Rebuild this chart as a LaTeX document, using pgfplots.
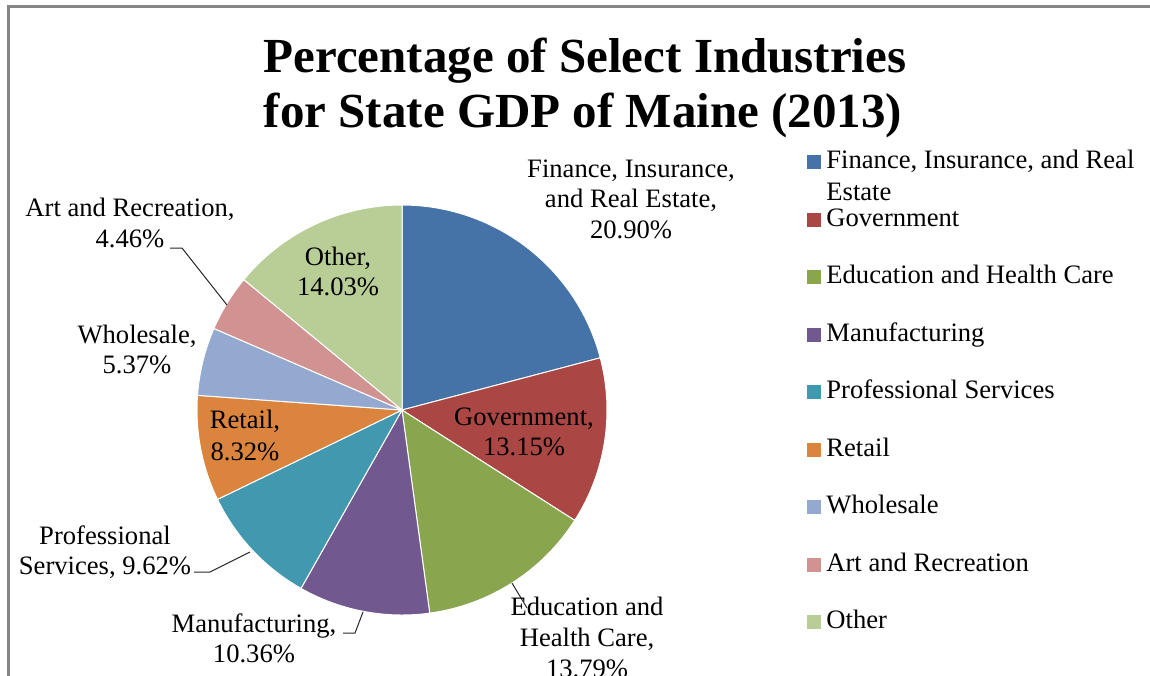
\documentclass[border=0pt]{standalone}
\usepackage{pgfplots}
\usepackage{pgfplotstable}
\pgfplotsset{compat=1.18}
\usepackage{fontspec}
\setmainfont{Liberation Serif}
\definecolor{cA}{RGB}{69,114,167}
\definecolor{cB}{RGB}{170,70,67}
\definecolor{cC}{RGB}{137,165,78}
\definecolor{cD}{RGB}{113,88,143}
\definecolor{cE}{RGB}{65,152,175}
\definecolor{cF}{RGB}{219,132,61}
\definecolor{cG}{RGB}{147,169,207}
\definecolor{cH}{RGB}{209,147,146}
\definecolor{cI}{RGB}{185,205,150}
\definecolor{frame}{RGB}{134,134,134}
\pgfplotstableread{
value color
20.90 cA
13.15 cB
13.79 cC
10.36 cD
9.62  cE
8.32  cF
5.37  cG
4.46  cH
14.03 cI
}\piedata
\newcommand{\lf}{\fontsize{13.3pt}{15pt}\selectfont}
\begin{document}
\begin{tikzpicture}
\begin{axis}[x=0.5pt,y=0.5pt,xmin=0,xmax=1150,ymin=0,ymax=675,y dir=reverse,
  hide axis,clip=false,anchor=north west,at={(0,0)}]
\path (axis cs:0,0) rectangle (axis cs:1150,675);
% frame
\draw[frame,line width=1.4pt] (axis cs:8.5,680) -- (axis cs:8.5,6.5) -- (axis cs:1155,6.5);
% pie wedges
\gdef\cum{0}
\pgfplotsforeachungrouped \i in {0,...,8}{%
  \pgfplotstablegetelem{\i}{value}\of\piedata \let\v\pgfplotsretval
  \pgfplotstablegetelem{\i}{color}\of\piedata \let\c\pgfplotsretval
  \pgfmathsetmacro\a{90-3.6*\cum}%
  \pgfmathsetmacro\b{90-3.6*(\cum+\v)}%
  \edef\temp{\noexpand\fill[fill=\c, draw=white, line width=0.5pt, line join=round] (axis cs:402,410) -- ++(\a:102.5pt) arc[start angle=\a, end angle=\b, radius=102.5pt] -- cycle;}%
  \temp
  \pgfmathsetmacro\n{\cum+\v}%
  \xdef\cum{\n}%
}
% title
\node[font=\fontsize{24.5pt}{27pt}\selectfont\bfseries,anchor=base] at (axis cs:585,72) {Percentage of Select Industries};
\node[font=\fontsize{24.5pt}{27pt}\selectfont\bfseries,anchor=base] at (axis cs:583,127) {for State GDP of Maine (2013)};
% leader lines
\draw[black!85,line width=0.5pt] (axis cs:170,248) -- (axis cs:182,248) -- (axis cs:227,305);
\draw[black!85,line width=0.5pt] (axis cs:194,572) -- (axis cs:210,572) -- (axis cs:250,552);
\draw[black!85,line width=0.5pt] (axis cs:343,633) -- (axis cs:355,633) -- (axis cs:363,612);
\draw[black!85,line width=0.5pt] (axis cs:512,583) -- (axis cs:527,608);
% data labels
\begin{scope}[every node/.style={font=\lf,anchor=base,inner sep=0pt}]
\node at (axis cs:631,177) {Finance, Insurance,};
\node at (axis cs:631,207) {and Real Estate,};
\node at (axis cs:631,238) {20.90\%};
\node at (axis cs:524,425) {Government,};
\node at (axis cs:524,455) {13.15\%};
\node at (axis cs:587,615) {Education and};
\node at (axis cs:587,646) {Health Care,};
\node at (axis cs:587,677) {13.79\%};
\node at (axis cs:254,632) {Manufacturing,};
\node at (axis cs:254,662) {10.36\%};
\node at (axis cs:105,544) {Professional};
\node at (axis cs:105,574) {Services, 9.62\%};
\node at (axis cs:245,428) {Retail,};
\node at (axis cs:245,460) {8.32\%};
\node at (axis cs:137,343) {Wholesale,};
\node at (axis cs:137,373) {5.37\%};
\node at (axis cs:130,216) {Art and Recreation,};
\node at (axis cs:130,247) {4.46\%};
\node at (axis cs:338,265) {Other,};
\node at (axis cs:338,295) {14.03\%};
\end{scope}
% legend
\begin{scope}[every node/.style={font=\lf,anchor=base west,inner sep=0pt}]
\fill[cA] (axis cs:807,155) rectangle (axis cs:821,169);
\node at (axis cs:826,168) {Finance, Insurance, and Real};
\node at (axis cs:826,200) {Estate};
\fill[cB] (axis cs:807,213) rectangle (axis cs:821,227);
\node at (axis cs:826,226) {Government};
\fill[cC] (axis cs:807,270) rectangle (axis cs:821,284);
\node at (axis cs:826,283) {Education and Health Care};
\fill[cD] (axis cs:807,328) rectangle (axis cs:821,342);
\node at (axis cs:826,341) {Manufacturing};
\fill[cE] (axis cs:807,385) rectangle (axis cs:821,399);
\node at (axis cs:826,398) {Professional Services};
\fill[cF] (axis cs:807,443) rectangle (axis cs:821,457);
\node at (axis cs:826,456) {Retail};
\fill[cG] (axis cs:807,500) rectangle (axis cs:821,514);
\node at (axis cs:826,513) {Wholesale};
\fill[cH] (axis cs:807,558) rectangle (axis cs:821,572);
\node at (axis cs:826,571) {Art and Recreation};
\fill[cI] (axis cs:807,615) rectangle (axis cs:821,629);
\node at (axis cs:826,628) {Other};
\end{scope}
\end{axis}
\pgfresetboundingbox
\path (0,0) rectangle (575pt,-337.5pt);
\end{tikzpicture}
\end{document}
